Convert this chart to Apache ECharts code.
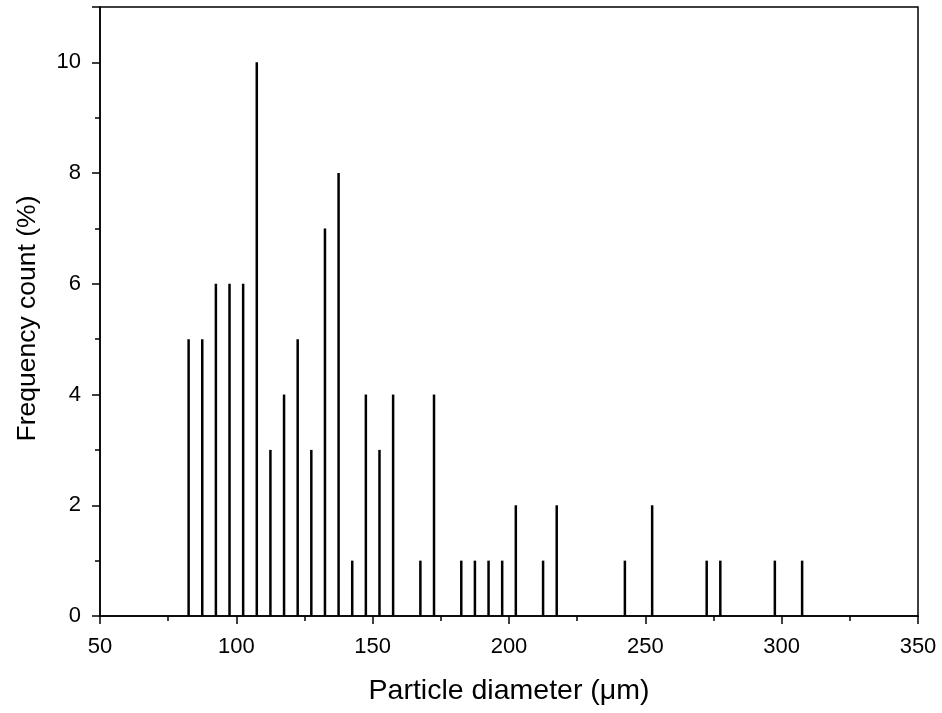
<!DOCTYPE html>
<html><head><meta charset="utf-8">
<script src="https://cdn.jsdelivr.net/npm/echarts@6/dist/echarts.min.js"></script>
<style>html,body{margin:0;padding:0;background:#fff}#c{width:942px;height:713px}</style>
</head><body><div id="c"></div>
<script>
var diameters = [82.5,87.5,92.5,97.5,102.5,107.5,112.5,117.5,122.5,127.5,132.5,137.5,142.5,147.5,152.5,157.5,167.5,172.5,182.5,187.5,192.5,197.5,202.5,212.5,217.5,242.5,252.5,272.5,277.5,297.5,307.5];
var frequency = [5,5,6,6,6,10,3,4,5,3,7,8,1,4,3,4,1,4,1,1,1,1,2,1,2,1,2,1,1,1,1];
var xTicks = [50,100,150,200,250,300,350];
var yTicks = [0,2,4,6,8,10];

var data = diameters.map(function(d,i){return [d, frequency[i]];});
var font = 'Liberation Sans, Arial, sans-serif';
var chart = echarts.init(document.getElementById('c'));
chart.setOption({
  animation:false,
  grid:{left:100,right:24,top:7,bottom:97,containLabel:false,show:true,borderColor:'#000',borderWidth:1.5},
  xAxis:{type:'value',min:50,max:350,interval:50,
    name:'Particle diameter (μm)',nameLocation:'middle',nameGap:61,
    nameTextStyle:{fontFamily:font,fontSize:28.5,color:'#000'},
    axisLine:{onZero:false,lineStyle:{color:'#000',width:1.5}},
    axisTick:{show:true,inside:false,length:8,lineStyle:{color:'#000',width:1.5}},
    minorTick:{show:true,splitNumber:2,length:5,lineStyle:{color:'#000',width:1.5}},
    axisLabel:{fontFamily:font,fontSize:22,color:'#000',margin:20},
    splitLine:{show:false}},
  yAxis:{type:'value',min:0,max:11,interval:2,
    name:'Frequency count (%)',nameLocation:'middle',nameGap:59,
    nameTextStyle:{fontFamily:font,fontSize:26.5,color:'#000',padding:[0,14,0,0]},
    axisLine:{show:true,lineStyle:{color:'#000',width:1.5}},
    axisTick:{show:true,inside:false,length:8,lineStyle:{color:'#000',width:1.5}},
    minorTick:{show:true,splitNumber:2,length:5,lineStyle:{color:'#000',width:1.5}},
    axisLabel:{fontFamily:font,fontSize:22,color:'#000',margin:19,
      formatter:function(v){return yTicks.indexOf(v)>=0?String(v):'';}},
    splitLine:{show:false}},
  series:[{type:'bar',data:data,barWidth:2.5,itemStyle:{color:'#000'},silent:true}]
});
</script></body></html>
